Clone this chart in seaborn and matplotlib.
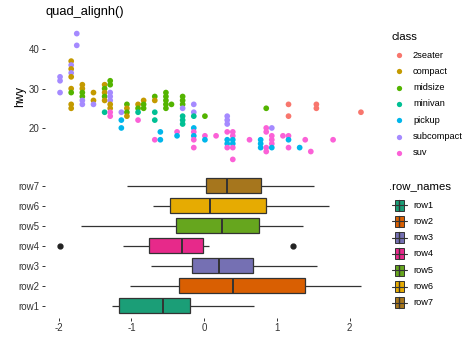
import numpy as np
import pandas as pd
import matplotlib
matplotlib.use("Agg")
import matplotlib.pyplot as plt
from matplotlib.lines import Line2D
from matplotlib.patches import Rectangle
import seaborn as sns

# ---------------- data ----------------
# top panel: visible (displ, hwy, class) points
displ = [1.6, 1.6, 1.6,
         1.8, 1.8, 1.8, 1.8, 1.8, 1.8, 1.8, 1.8, 1.8,
         1.9, 1.9,
         2.0, 2.0, 2.0, 2.0, 2.0, 2.0,
         2.2, 2.2, 2.2,
         2.4, 2.4, 2.4, 2.4, 2.4, 2.4,
         2.5, 2.5, 2.5, 2.5, 2.5, 2.5, 2.5, 2.5, 2.5,
         2.7, 2.7, 2.7,
         2.8, 2.8, 2.8, 2.8,
         3.0, 3.0, 3.0, 3.0,
         3.1, 3.1, 3.1,
         3.3, 3.3, 3.3, 3.3, 3.3,
         3.4, 3.4,
         3.5, 3.5, 3.5, 3.5, 3.5,
         3.6,
         3.7, 3.7,
         3.8, 3.8, 3.8, 3.8, 3.8, 3.8, 3.8,
         4.0, 4.0, 4.0, 4.0, 4.0, 4.0, 4.0, 4.0,
         4.2, 4.2, 4.2,
         4.4,
         4.6, 4.6, 4.6, 4.6, 4.6, 4.6, 4.6,
         4.7, 4.7, 4.7, 4.7, 4.7, 4.7,
         5.0,
         5.2, 5.2, 5.2,
         5.3, 5.3, 5.3, 5.3, 5.3,
         5.4, 5.4, 5.4, 5.4, 5.4,
         5.6,
         5.7, 5.7, 5.7, 5.7, 5.7,
         5.9, 6.0, 6.1,
         6.2, 6.2,
         6.5, 7.0]
hwy = [33, 32, 29,
       37, 36, 35, 34, 33, 30, 29, 26, 25,
       44, 41,
       31, 30, 29, 28, 27, 26,
       29, 27, 26,
       31, 30, 29, 28, 27, 24,
       32, 31, 29, 28, 27, 26, 25, 24, 23,
       24, 22, 20,
       26, 25, 24, 23,
       26, 25, 24, 22,
       27, 26, 25,
       28, 27, 24, 22, 17,
       19, 17,
       29, 28, 27, 26, 25,
       26,
       19, 18,
       28, 27, 26, 25, 23, 22, 21,
       26, 24, 23, 20, 19, 18, 17, 15,
       23, 18, 17,
       18,
       23, 22, 21, 19, 17, 16, 15,
       19, 18, 17, 16, 15, 12,
       17,
       17, 16, 15,
       25, 20, 19, 15, 14,
       20, 18, 17, 16, 15,
       18,
       26, 23, 18, 17, 15,
       15, 17, 14,
       26, 25,
       17, 24]
cls = ["subcompact"] * 3 + \
      ["compact", "subcompact", "compact", "subcompact", "compact", "compact", "midsize", "compact", "compact"] + \
      ["subcompact"] * 2 + \
      ["compact", "compact", "midsize", "midsize", "subcompact", "subcompact"] + \
      ["compact", "compact", "subcompact"] + \
      ["compact", "midsize", "compact", "midsize", "compact", "minivan"] + \
      ["midsize", "midsize", "subcompact", "subcompact", "subcompact", "compact", "compact", "suv", "suv"] + \
      ["subcompact", "pickup", "pickup"] + \
      ["midsize", "compact", "midsize", "compact"] + \
      ["compact", "midsize", "minivan", "suv"] + \
      ["compact", "midsize", "midsize"] + \
      ["midsize", "compact", "minivan", "minivan", "suv"] + \
      ["pickup", "pickup"] + \
      ["midsize"] * 5 + \
      ["midsize"] + \
      ["suv", "pickup"] + \
      ["midsize", "midsize", "midsize", "subcompact", "minivan", "minivan", "minivan"] + \
      ["subcompact", "subcompact", "minivan", "pickup", "suv", "pickup", "suv", "suv"] + \
      ["midsize", "suv", "pickup"] + \
      ["suv"] + \
      ["subcompact", "subcompact", "subcompact", "suv", "pickup", "pickup", "suv"] + \
      ["suv", "suv", "pickup", "pickup", "suv", "suv"] + \
      ["suv"] + \
      ["pickup"] * 3 + \
      ["midsize", "suv", "suv", "suv", "suv"] + \
      ["subcompact", "suv", "suv", "suv", "pickup"] + \
      ["suv"] + \
      ["2seater", "2seater", "suv", "pickup", "suv"] + \
      ["pickup", "suv", "suv"] + \
      ["2seater", "2seater"] + \
      ["suv", "2seater"]

classes = ["2seater", "compact", "midsize", "minivan", "pickup", "subcompact", "suv"]
class_colors = ["#F8766D", "#C49A00", "#53B400", "#00C094", "#00B6EB", "#A58AFF", "#FB61D7"]

row_names = ["row1", "row2", "row3", "row4", "row5", "row6", "row7"]
row1 = [-1.269, -1.177, -0.566, -0.193, 0.680]
row2 = [-1.025, -0.345, 0.395, 1.384, 2.156]
row3 = [-0.726, -0.161, 0.198, 0.671, 1.554]
row4 = [-1.982, -1.117, -0.759, -0.500, -0.303, -0.150, -0.023, 0.064, 1.223]
row5 = [-1.692, -0.391, 0.248, 0.749, 1.361]
row6 = [-0.699, -0.469, 0.083, 0.846, 1.715]
row7 = [-1.067, 0.023, 0.313, 0.786, 1.508]
row_colors = ["#1B9E77", "#D95F02", "#7570B3", "#E7298A", "#66A61E", "#E6AB02", "#A6761D"]

x_ticks_bottom = [-2, -1, 0, 1, 2]
y_ticks_top = [20, 30, 40]

# ---------------- figure ----------------
W, H = 474, 338
sns.set_theme(style="white")
plt.rcParams["font.family"] = ["Liberation Sans", "DejaVu Sans"]
fig = plt.figure(figsize=(W / 100, H / 100), dpi=100)
fig.patch.set_facecolor("white")

def fx(px):
    return px / W

def fy(py):
    return 1 - py / H

txt_col = "#333333"
tick_fs = 7
leg_fs = 6.7

# top panel
ax1 = fig.add_axes([fx(45), fy(165.7), fx(376) - fx(45), fy(27.3) - fy(165.7)])
df_top = pd.DataFrame({"displ": displ, "hwy": hwy, "class": cls})
sns.scatterplot(data=df_top, x="displ", y="hwy", hue="class", hue_order=classes,
                palette=dict(zip(classes, class_colors)), s=17, linewidth=0,
                legend=False, ax=ax1)
ax1.set_xlim(1.33, 7.27)
ax1.set_ylim(10.4, 45.6)
ax1.set_xticks([])
ax1.set_yticks(y_ticks_top)
ax1.set_xlabel("")
ax1.set_ylabel("hwy", fontsize=8.5, color="#000000", labelpad=1.5)
for s in ax1.spines.values():
    s.set_visible(False)
ax1.tick_params(axis="y", length=2.5, width=0.7, color=txt_col, labelsize=tick_fs,
                labelcolor=txt_col, pad=1.5, left=True)
ax1.set_facecolor("white")

# bottom panel
ax2 = fig.add_axes([fx(45), fy(317.7), fx(376) - fx(45), fy(173.7) - fy(317.7)])
rows_data = [row1, row2, row3, row4, row5, row6, row7]
df_box = pd.DataFrame({
    "row": np.concatenate([[n] * len(v) for n, v in zip(row_names, rows_data)]),
    "value": np.concatenate(rows_data),
})
order = row_names[::-1]
sns.boxplot(data=df_box, x="value", y="row", hue="row", order=order, hue_order=row_names,
            palette=dict(zip(row_names, row_colors)), saturation=1, width=0.73,
            linecolor="#333333", linewidth=0.9, showcaps=False, legend=False, ax=ax2,
            medianprops=dict(linewidth=1.4, color="#333333"),
            flierprops=dict(marker="o", markerfacecolor="#222222", markeredgecolor="#222222",
                            markersize=3.5))
ax2.set_xlim(-2.189, 2.363)
ax2.set_ylim(6.6, -0.6)
ax2.set_xticks(x_ticks_bottom)
ax2.set_xticklabels([str(t) for t in x_ticks_bottom])
ax2.set_xlabel("")
ax2.set_ylabel("")
for s in ax2.spines.values():
    s.set_visible(False)
ax2.tick_params(axis="both", length=2.5, width=0.7, color=txt_col, labelsize=tick_fs,
                labelcolor=txt_col, pad=1.5, left=True, bottom=True)
ax2.set_facecolor("white")

# title
fig.text(fx(45), fy(12), "quad_alignh()", fontsize=9.3, color="#000000", va="center", ha="left")

# class legend
fig.text(fx(391.5), fy(37), "class", fontsize=8.2, color="#000000", va="center", ha="left")
for i, (c, col) in enumerate(zip(classes, class_colors)):
    y = 55 + i * 16.3
    fig.add_artist(Line2D([fx(399)], [fy(y)], marker="o", markersize=3.8, color=col,
                          markeredgewidth=0, linestyle="none", transform=fig.transFigure))
    fig.text(fx(413), fy(y), c, fontsize=leg_fs, color="#000000", va="center", ha="left")

# row legend
fig.text(fx(389), fy(186.5), ".row_names", fontsize=8.2, color="#000000", va="center", ha="left")
for i, (n, col) in enumerate(zip(row_names, row_colors)):
    y = 205 + i * 16.3
    fig.add_artist(Line2D([fx(391.5), fx(406.5)], [fy(y), fy(y)], color="#333333",
                          linewidth=0.8, transform=fig.transFigure))
    fig.add_artist(Rectangle((fx(394.5), fy(y + 5.5)), fx(9), (11 / H), facecolor=col,
                             edgecolor="#333333", linewidth=0.7, transform=fig.transFigure))
    fig.add_artist(Line2D([fx(399), fx(399)], [fy(y - 5.5), fy(y + 5.5)], color="#333333",
                          linewidth=1.0, transform=fig.transFigure))
    fig.text(fx(413), fy(y), n, fontsize=leg_fs, color="#000000", va="center", ha="left")

fig.savefig("out.png", dpi=100, facecolor="white")
